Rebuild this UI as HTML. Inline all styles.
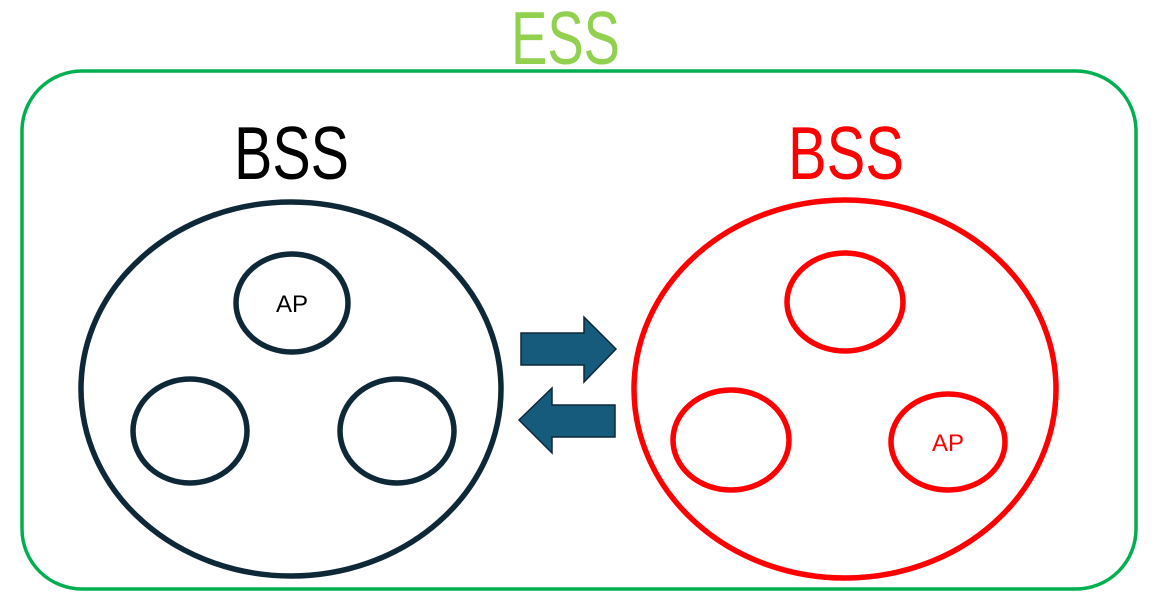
<!DOCTYPE html>
<html><head><style>html,body{margin:0;padding:0;background:#fff;width:1173px;height:598px;overflow:hidden}</style></head>
<body>
<svg width="1173" height="598" viewBox="0 0 1173 598" xmlns="http://www.w3.org/2000/svg" font-family="Liberation Sans, sans-serif">
<rect x="22" y="71" width="1114" height="518" rx="60" ry="60" fill="none" stroke="#00b050" stroke-width="3.5"/>
<text x="511" y="64" font-size="75" fill="#92d050" textLength="109" lengthAdjust="spacingAndGlyphs">ESS</text>
<text x="234" y="179" font-size="75" fill="#000" textLength="115" lengthAdjust="spacingAndGlyphs">BSS</text>
<text x="788" y="179" font-size="75" fill="#ff0000" textLength="116" lengthAdjust="spacingAndGlyphs">BSS</text>
<g fill="none" stroke="#0e2838" stroke-width="5.5">
<ellipse cx="291" cy="389" rx="210" ry="187"/>
<ellipse cx="292" cy="303" rx="56" ry="49"/>
<ellipse cx="190" cy="431" rx="57" ry="52"/>
<ellipse cx="397" cy="431" rx="57" ry="52"/>
</g>
<text x="292" y="312" font-size="24" text-anchor="middle" fill="#000">AP</text>
<g fill="none" stroke="#ff0000" stroke-width="5.5">
<ellipse cx="845" cy="389" rx="211" ry="189"/>
<ellipse cx="845" cy="302" rx="58" ry="49"/>
<ellipse cx="731" cy="440" rx="58" ry="50"/>
<ellipse cx="948" cy="442" rx="57" ry="48"/>
</g>
<text x="948" y="451" font-size="24" text-anchor="middle" fill="#ff0000">AP</text>
<g fill="#165a7c" stroke="#0e2838" stroke-width="1.5">
<polygon points="521,333 584,333 584,317 616,349 584,382 584,365 521,365"/>
<polygon points="615,405 552,405 552,388 519,420 552,453 552,437 615,437"/>
</g>
</svg>
</body></html>
